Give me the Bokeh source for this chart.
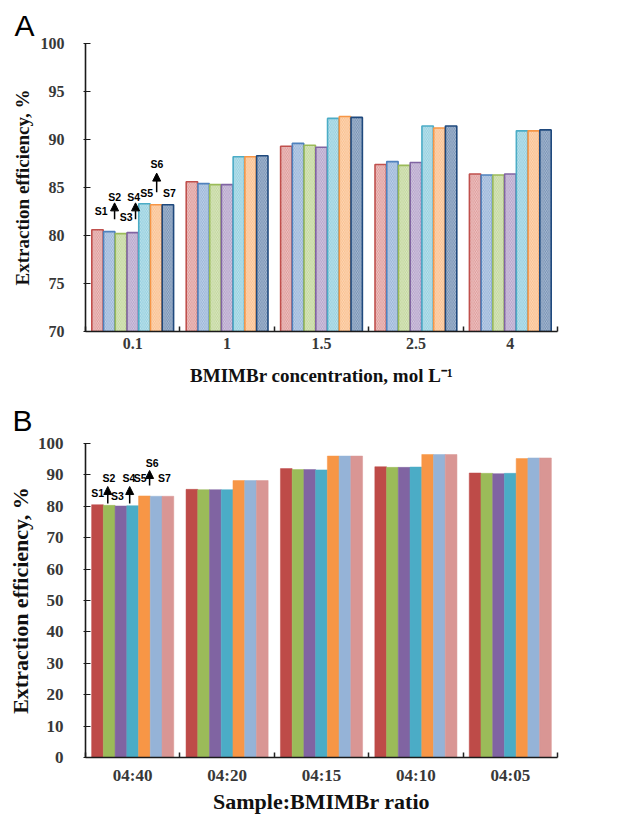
import numpy as np
from bokeh.plotting import figure
from bokeh.models import Range1d, FixedTicker, Label, Arrow, NormalHead, LinearAxis
from bokeh.layouts import column
from bokeh.embed import file_html
from bokeh.resources import INLINE

# ---------------- data ----------------
series_names = ["S1", "S2", "S3", "S4", "S5", "S6", "S7"]

a_categories = ["0.1", "1", "1.5", "2.5", "4"]
a_s1 = [80.6, 85.6, 89.3, 87.4, 86.4]
a_s2 = [80.4, 85.4, 89.6, 87.7, 86.3]
a_s3 = [80.2, 85.3, 89.4, 87.3, 86.3]
a_s4 = [80.3, 85.3, 89.2, 87.6, 86.4]
a_s5 = [83.3, 88.2, 92.2, 91.4, 90.9]
a_s6 = [83.2, 88.2, 92.4, 91.2, 90.9]
a_s7 = [83.2, 88.3, 92.3, 91.4, 91.0]

b_categories = ["04:40", "04:20", "04:15", "04:10", "04:05"]
b_s1 = [80.5, 85.4, 92.0, 92.6, 90.6]
b_s2 = [80.3, 85.3, 91.7, 92.4, 90.5]
b_s3 = [80.1, 85.3, 91.7, 92.4, 90.4]
b_s4 = [80.2, 85.3, 91.6, 92.5, 90.5]
b_s5 = [83.3, 88.2, 96.0, 96.5, 95.2]
b_s6 = [83.2, 88.2, 96.0, 96.5, 95.4]
b_s7 = [83.2, 88.2, 96.0, 96.5, 95.4]

a_yticks = [70, 75, 80, 85, 90, 95, 100]
b_yticks = [0, 10, 20, 30, 40, 50, 60, 70, 80, 90, 100]

# annotation label positions (group units, data units)
a_label_x = [0.167, 0.308, 0.432, 0.51, 0.648, 0.757, 0.89]
a_label_y = [82.6, 84.06, 81.9, 84.06, 84.4, 87.4, 84.4]
a_arrow_x = [0.308, 0.53, 0.754]
a_arrow_y0 = [81.7, 81.7, 84.5]
a_arrow_y1 = [83.4, 83.4, 86.5]

b_label_x = [0.128, 0.248, 0.339, 0.459, 0.578, 0.706, 0.835]
b_label_y = [84.1, 88.9, 83.2, 88.9, 88.9, 93.7, 88.9]
b_arrow_x = [0.236, 0.468, 0.679]
b_arrow_y0 = [80.9, 80.9, 86.6]
b_arrow_y1 = [86.3, 86.3, 91.4]

# ---------------- styles ----------------
a_line_colors = ["#C0504D", "#4F81BD", "#9BBB59", "#8064A2", "#4BACC6", "#F79646", "#1F497D"]
a_fill_colors = ["#F0CACA", "#C6D5EA", "#DCE8C6", "#D6CCE3", "#C3E5EE", "#FCDABC", "#AFC0D6"]
b_colors = ["#BE4B48", "#9BBB59", "#8064A2", "#4BACC6", "#F79646", "#95B3D7", "#D99694"]

SERIF = "Liberation Serif"
SANS = "Liberation Sans"
GROUP_W = 0.87
n_series = 7
bw = GROUP_W / n_series
centers = np.arange(5) + 0.5
bounds = [0, 1, 2, 3, 4, 5]


def style_axes(p, xcats, yticks, tick_size, title_size, ylab_standoff, ytitle_standoff,
               xlab_standoff, xtitle_standoff, xtitle, ytitle):
    p.grid.visible = False
    p.outline_line_color = None
    p.background_fill_color = "white"
    p.border_fill_color = "white"

    # inner x axis: line + boundary ticks only
    inner = p.xaxis[0]
    inner.ticker = FixedTicker(ticks=bounds)
    inner.major_label_overrides = {b: "" for b in bounds}
    inner.major_label_text_font_size = "1px"
    inner.major_label_standoff = 0
    inner.major_tick_in = 5
    inner.major_tick_out = 0
    inner.major_tick_line_width = 1.5
    inner.major_tick_line_color = "#222222"
    inner.minor_tick_line_color = None
    inner.axis_line_width = 1.6
    inner.axis_line_color = "#1a1a1a"

    # outer x axis: category labels + title
    outer = LinearAxis(ticker=FixedTicker(ticks=list(centers)))
    outer.major_label_overrides = {float(c): lab for c, lab in zip(centers, xcats)}
    outer.axis_line_color = None
    outer.major_tick_line_color = None
    outer.minor_tick_line_color = None
    outer.major_tick_in = 0
    outer.major_tick_out = 0
    p.add_layout(outer, "below")

    ya = p.yaxis[0]
    ya.ticker = FixedTicker(ticks=yticks)
    ya.major_tick_in = 5
    ya.major_tick_out = 2
    ya.minor_tick_line_color = None
    ya.major_tick_line_width = 1.2
    ya.major_tick_line_color = "#1a1a1a"
    ya.axis_line_width = 1.6
    ya.axis_line_color = "#1a1a1a"

    for ax in (outer, ya):
        ax.major_label_text_font = SERIF
        ax.major_label_text_font_style = "bold"
        ax.major_label_text_font_size = tick_size
        ax.major_label_text_color = "#383838"
        ax.axis_label_text_font = SERIF
        ax.axis_label_text_font_style = "bold"
        ax.axis_label_text_font_size = title_size
        ax.axis_label_text_color = "#111111"
    ya.major_label_standoff = ylab_standoff
    ya.axis_label_standoff = ytitle_standoff
    outer.major_label_standoff = xlab_standoff
    outer.axis_label_standoff = xtitle_standoff
    outer.axis_label = xtitle
    ya.axis_label = ytitle


def add_annotations(p, lx, ly, ax_, ay0, ay1):
    for name, x, y in zip(series_names, lx, ly):
        p.add_layout(Label(x=x, y=y, text=name, text_font=SANS, text_font_style="bold",
                           text_font_size="10.5px", text_align="center",
                           text_baseline="middle", text_color="black"))
    for x, y0, y1 in zip(ax_, ay0, ay1):
        p.add_layout(Arrow(end=NormalHead(size=8, fill_color="black", line_color="black", line_width=1),
                           x_start=x, y_start=y0, x_end=x, y_end=y1,
                           line_width=1.5, line_color="black"))


def panel_letter(p, letter, offset, standoff):
    p.title.text = letter
    p.title.text_font = SANS
    p.title.text_font_style = "normal"
    p.title.text_font_size = "30px"
    p.title.text_color = "black"
    p.title.align = "left"
    p.title.offset = offset
    p.title.standoff = standoff


# ---------------- panel A ----------------
pa = figure(width=632, height=392, x_range=Range1d(0, 5), y_range=Range1d(70, 100),
            output_backend="svg", toolbar_location=None,
            min_border_left=84, min_border_right=75, min_border_top=43, min_border_bottom=61)
a_series = [a_s1, a_s2, a_s3, a_s4, a_s5, a_s6, a_s7]
for k, vals in enumerate(a_series):
    xs = centers + (k - (n_series - 1) / 2) * bw
    pa.vbar(x=xs, top=vals, bottom=70, width=bw * 0.97,
            fill_color=a_fill_colors[k], line_color=a_line_colors[k], line_width=1.6,
            hatch_pattern="\\", hatch_color=a_line_colors[k], hatch_alpha=0.5,
            hatch_scale=3.5, hatch_weight=0.8)
style_axes(pa, a_categories, a_yticks, "16px", "19px", 19, 5, 6, 13,
           "BMIMBr concentration, mol L\u207b\u00b9", "Extraction efficiency, %")
add_annotations(pa, a_label_x, a_label_y, a_arrow_x, a_arrow_y0, a_arrow_y1)
panel_letter(pa, "A", -71, 4)

# ---------------- panel B ----------------
pb = figure(width=632, height=424, x_range=Range1d(0, 5), y_range=Range1d(0, 100),
            output_backend="svg", toolbar_location=None,
            min_border_left=85, min_border_right=1, min_border_top=51, min_border_bottom=58)
b_series = [b_s1, b_s2, b_s3, b_s4, b_s5, b_s6, b_s7]
for k, vals in enumerate(b_series):
    xs = centers + (k - (n_series - 1) / 2) * bw
    pb.vbar(x=xs, top=vals, bottom=0, width=bw,
            fill_color=b_colors[k], line_color=b_colors[k], line_width=0.5)
style_axes(pb, b_categories, b_yticks, "17px", "22px", 20, 2, 8, 1,
           "Sample:BMIMBr ratio", "Extraction efficiency, %")
add_annotations(pb, b_label_x, b_label_y, b_arrow_x, b_arrow_y0, b_arrow_y1)
panel_letter(pb, "B", -73, 14)

layout = column(pa, pb, spacing=0)
open("out.html", "w").write(file_html(layout, INLINE))
